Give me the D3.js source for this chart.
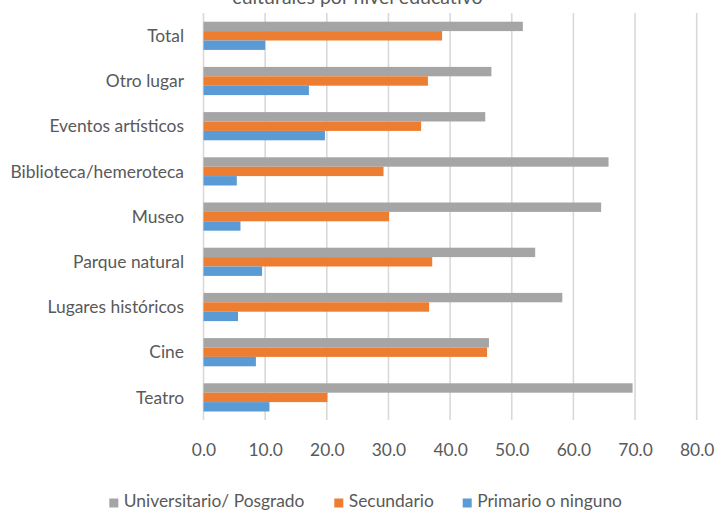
<!DOCTYPE html>
<html>
<head>
<meta charset="utf-8">
<script src="https://cdn.jsdelivr.net/npm/d3@7"></script>
<style>
  html, body { margin: 0; padding: 0; background: #fff; }
  svg { display: block; }
  text { font-family: Lato, "Open Sans", sans-serif; fill: #595959; }
</style>
</head>
<body>
<svg id="chart" width="715" height="510"></svg>
<script>
// Asistencia a espacios culturales por nivel educativo (%)
const categories = ["Total", "Otro lugar", "Eventos artísticos", "Biblioteca/hemeroteca",
  "Museo", "Parque natural", "Lugares históricos", "Cine", "Teatro"];

const seriesNames = ["Universitario/ Posgrado", "Secundario", "Primario o ninguno"];

const universitario = [51.8, 46.7, 45.7, 65.7, 64.5, 53.8, 58.2, 46.3, 69.6];
const secundario    = [38.7, 36.4, 35.3, 29.2, 30.1, 37.1, 36.6, 46.0, 20.1];
const primario      = [10.0, 17.1, 19.7,  5.4,  6.0,  9.5,  5.6,  8.5, 10.7];

const xTicks = [0, 10, 20, 30, 40, 50, 60, 70, 80];
const titleText = "culturales por nivel educativo";

const colors = ["#A5A5A5", "#ED7D31", "#5B9BD5"];
const seriesValues = [universitario, secundario, primario];

const svg = d3.select("#chart");
const labelSize = "17.4px";

// Scales
const x = d3.scaleLinear().domain([0, 80]).range([203.5, 696.7]);
const y = d3.scaleBand().domain(categories).range([13.2, 420])
  .paddingInner(0.376).paddingOuter(0.188);
const ySub = d3.scaleBand().domain(seriesNames).range([0, y.bandwidth()]);
const color = d3.scaleOrdinal().domain(seriesNames).range(colors);

// Title (top part falls outside the frame)
svg.append("text")
  .attr("x", 357.5).attr("y", 3.5)
  .attr("text-anchor", "middle")
  .style("font-size", "19.5px")
  .text(titleText);

// Vertical gridlines
svg.append("g")
  .selectAll("line")
  .data(xTicks)
  .join("line")
  .attr("x1", d => x(d)).attr("x2", d => x(d))
  .attr("y1", 13).attr("y2", 420)
  .attr("stroke", "#d9d9d9")
  .attr("stroke-width", 1.6);

// Bars
const rows = categories.map((c, i) => ({
  cat: c,
  vals: seriesNames.map((s, j) => ({ s, v: seriesValues[j][i] }))
}));

const groups = svg.append("g")
  .selectAll("g")
  .data(rows)
  .join("g")
  .attr("transform", d => `translate(0,${y(d.cat)})`);

groups.selectAll("rect")
  .data(d => d.vals)
  .join("rect")
  .attr("x", x(0))
  .attr("y", d => ySub(d.s))
  .attr("width", d => x(d.v) - x(0))
  .attr("height", ySub.bandwidth())
  .attr("fill", d => color(d.s));

// Category labels
const yAxis = d3.axisLeft(y).tickSize(0).tickPadding(0);
const yAxisG = svg.append("g")
  .attr("transform", "translate(184,0)")
  .call(yAxis);
yAxisG.select(".domain").remove();
yAxisG.selectAll("text")
  .style("font-size", labelSize)
  .style("font-family", "Lato, sans-serif")
  .attr("fill", "#595959")
  .attr("dy", "0.36em");

// X tick labels
const xAxis = d3.axisBottom(x).tickValues(xTicks).tickSize(0).tickPadding(0)
  .tickFormat(d3.format(".1f"));
const xAxisG = svg.append("g")
  .attr("transform", "translate(0,456)")
  .call(xAxis);
xAxisG.select(".domain").remove();
xAxisG.selectAll("text")
  .style("font-size", labelSize)
  .style("font-family", "Lato, sans-serif")
  .attr("fill", "#595959")
  .attr("y", 0)
  .attr("dy", 0);

// Legend
const legendX = [109.3, 334.3, 462.7];
const legend = svg.append("g")
  .selectAll("g")
  .data(seriesNames)
  .join("g")
  .attr("transform", (d, i) => `translate(${legendX[i]},0)`);

legend.append("rect")
  .attr("x", 0).attr("y", 498.5)
  .attr("width", 9).attr("height", 9)
  .attr("fill", d => color(d));

legend.append("text")
  .attr("x", 14.5).attr("y", 507.3)
  .style("font-size", labelSize)
  .text(d => d);
</script>
</body>
</html>
